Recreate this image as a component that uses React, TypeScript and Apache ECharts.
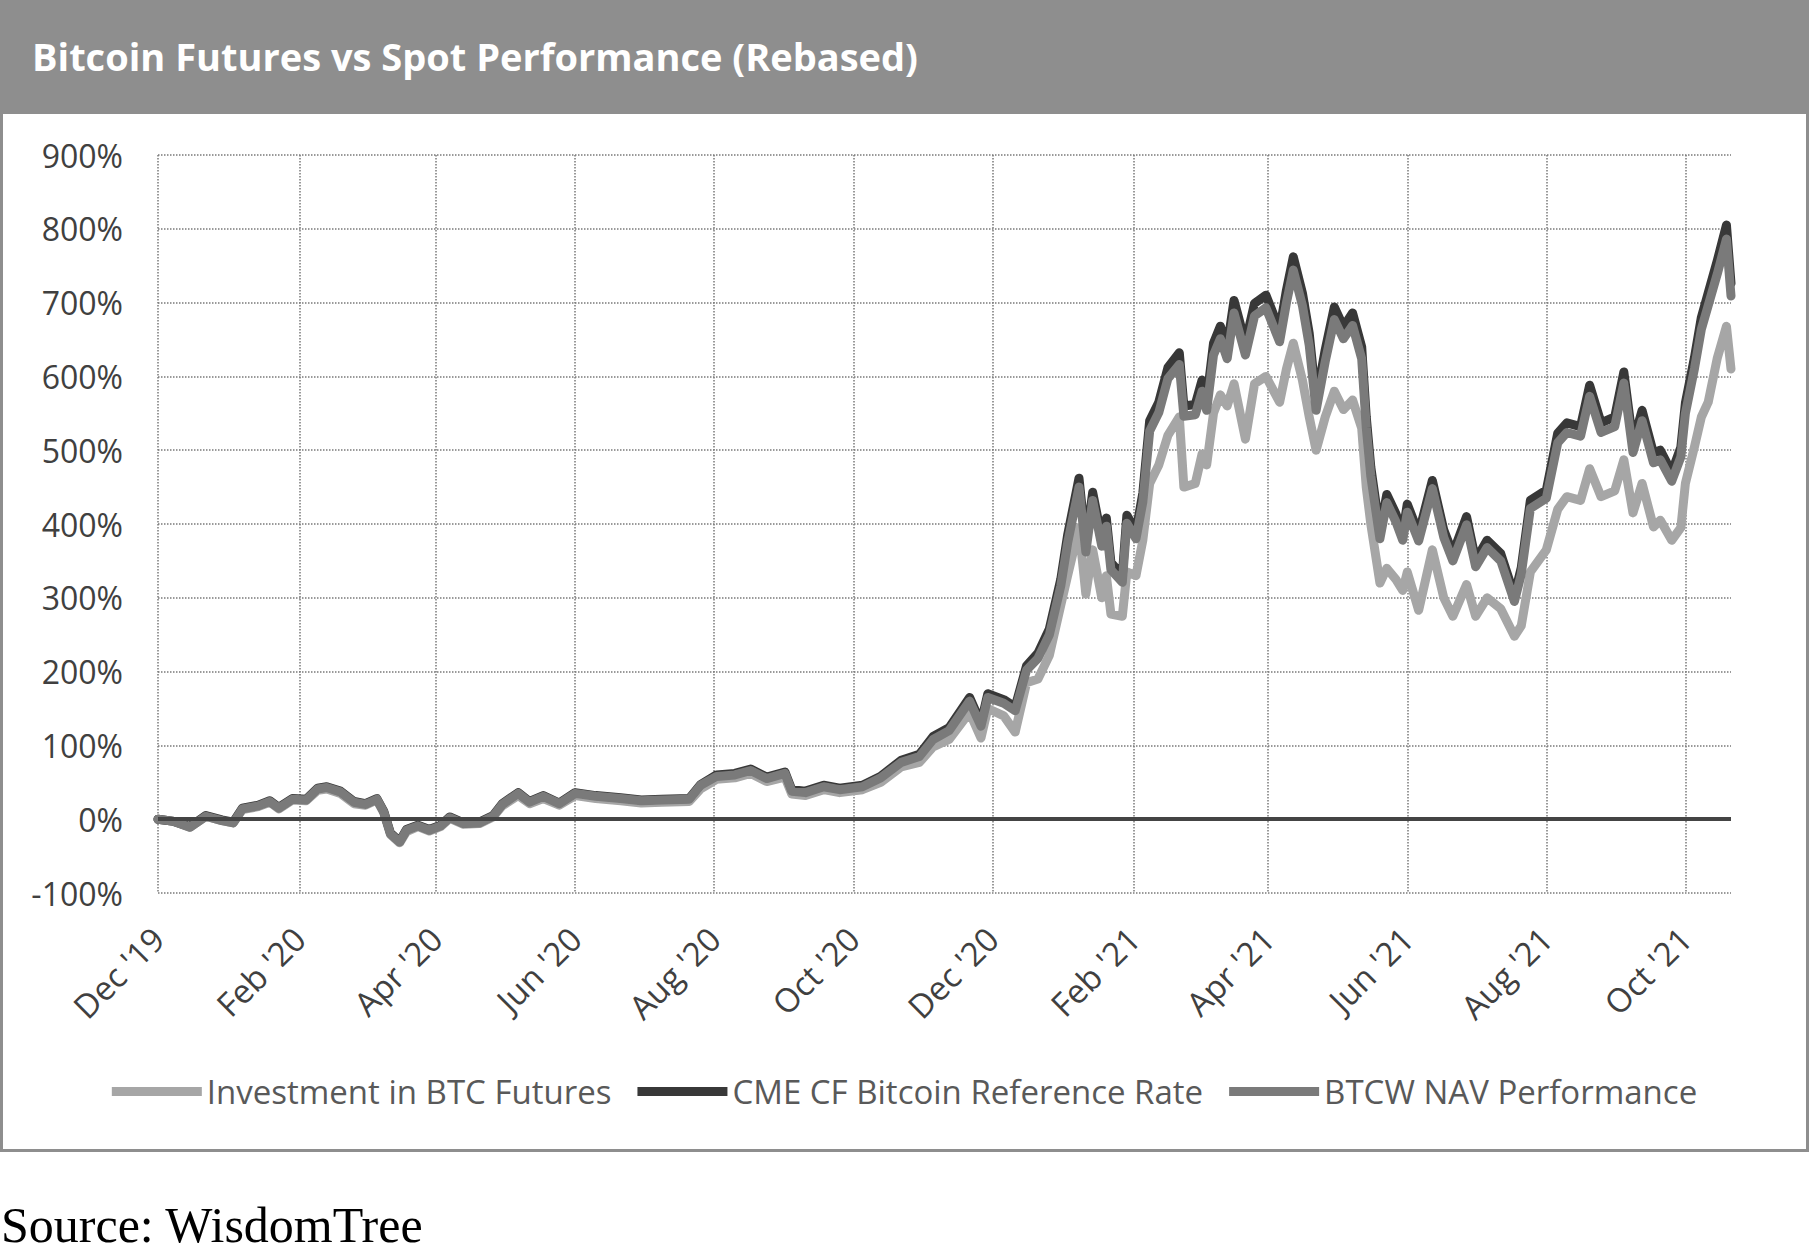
import React, { useEffect, useRef } from 'react';
import * as echarts from 'echarts';

// x-axis gridline dates and their labels
const tickDates = ['2019-12-01', '2020-02-01', '2020-04-01', '2020-06-01', '2020-08-01', '2020-10-01', '2020-12-01', '2021-02-01', '2021-04-01', '2021-06-01', '2021-08-01', '2021-10-01'];
const tickLabels = ["Dec '19", "Feb '20", "Apr '20", "Jun '20", "Aug '20", "Oct '20", "Dec '20", "Feb '21", "Apr '21", "Jun '21", "Aug '21", "Oct '21"];
const xStart = '2019-12-01';
const xEnd = '2021-10-21';

const seriesNames = ['Investment in BTC Futures', 'CME CF Bitcoin Reference Rate', 'BTCW NAV Performance'];

// sample dates
const dates = [
  '2019-12-01', '2019-12-08', '2019-12-15', '2019-12-22', '2019-12-29',
  '2020-01-03', '2020-01-07', '2020-01-14', '2020-01-19', '2020-01-23', '2020-01-29',
  '2020-02-04', '2020-02-09', '2020-02-13', '2020-02-19', '2020-02-25',
  '2020-03-01', '2020-03-06', '2020-03-09', '2020-03-12', '2020-03-16', '2020-03-19', '2020-03-24', '2020-03-29',
  '2020-04-03', '2020-04-07', '2020-04-13', '2020-04-20', '2020-04-26', '2020-04-30',
  '2020-05-07', '2020-05-12', '2020-05-18', '2020-05-25',
  '2020-06-01', '2020-06-10', '2020-06-21', '2020-06-30',
  '2020-07-09', '2020-07-21', '2020-07-26',
  '2020-08-02', '2020-08-10', '2020-08-17', '2020-08-24',
  '2020-09-01', '2020-09-04', '2020-09-10', '2020-09-18', '2020-09-25',
  '2020-10-05', '2020-10-13', '2020-10-22', '2020-10-30',
  '2020-11-05', '2020-11-12', '2020-11-21', '2020-11-26', '2020-11-29',
  '2020-12-06', '2020-12-11', '2020-12-16', '2020-12-21', '2020-12-26', '2020-12-31',
  '2021-01-03', '2021-01-08', '2021-01-11', '2021-01-14', '2021-01-18', '2021-01-20', '2021-01-22', '2021-01-27', '2021-01-29',
  '2021-02-02', '2021-02-05', '2021-02-08', '2021-02-12', '2021-02-16', '2021-02-21', '2021-02-23', '2021-02-28',
  '2021-03-03', '2021-03-05', '2021-03-08', '2021-03-11', '2021-03-14', '2021-03-17', '2021-03-22', '2021-03-26', '2021-03-31',
  '2021-04-06', '2021-04-09', '2021-04-12', '2021-04-16', '2021-04-19', '2021-04-22', '2021-04-26', '2021-04-30',
  '2021-05-04', '2021-05-08', '2021-05-12', '2021-05-14', '2021-05-16', '2021-05-20', '2021-05-23', '2021-05-27', '2021-05-30',
  '2021-06-01', '2021-06-06', '2021-06-12', '2021-06-17', '2021-06-21', '2021-06-27',
  '2021-07-01', '2021-07-06', '2021-07-12', '2021-07-18', '2021-07-21', '2021-07-25',
  '2021-08-01', '2021-08-06', '2021-08-10', '2021-08-16', '2021-08-20', '2021-08-25', '2021-08-31',
  '2021-09-04', '2021-09-08', '2021-09-12', '2021-09-17', '2021-09-20', '2021-09-25', '2021-09-29',
  '2021-10-01', '2021-10-05', '2021-10-08', '2021-10-11', '2021-10-15', '2021-10-19', '2021-10-21',
];

// rebased performance, %
const futures = [
  0, -3, -11, 4, -2,
  -5, 13, 17, 23, 14, 26,
  25, 39, 41, 35, 21,
  19, 26, 9, -21, -32, -17, -10, -16,
  -10, 1, -7, -6, 3, 18,
  32, 21, 28, 19,
  32, 28, 25, 22,
  23, 24, 41,
  54, 56, 62, 51,
  57, 34, 32, 40, 36,
  40, 50, 71, 77,
  98, 108, 145, 110, 150,
  140, 118, 185, 190, 222, 290,
  330, 395, 305, 365, 300, 330, 278, 275, 335,
  330, 378, 455, 480, 520, 545, 450, 455,
  495, 480, 550, 575, 560, 590, 515, 590, 600,
  565, 610, 645, 595, 545, 500, 545, 580,
  555, 568, 530, 450, 400, 320, 340, 325, 310,
  335, 283, 365, 300, 275, 318,
  275, 300, 285, 248, 262, 335,
  365, 420, 437, 432, 475, 437, 445,
  487, 415, 455, 396, 405, 378, 395,
  455, 505, 545, 565, 625, 668, 610,
];

const cme = [
  0, -3, -10, 5, -1,
  -4, 15, 19, 25, 16, 28,
  27, 42, 44, 38, 24,
  21, 28, 11, -19, -30, -14, -8, -14,
  -8, 3, -5, -4, 5, 21,
  36, 24, 32, 22,
  36, 32, 29, 26,
  27, 28, 47,
  60, 62, 68, 57,
  64, 40, 38, 46, 42,
  46, 58, 80, 88,
  112, 124, 165, 130, 170,
  162, 152, 208, 225, 258, 325,
  385, 462, 372, 443, 380, 408, 348, 330, 412,
  390, 442, 540, 565, 612, 632, 560, 562,
  595, 568, 645, 668, 640, 703, 645, 699, 710,
  663, 717, 762, 713, 658, 568, 636, 694,
  667, 686, 640, 545, 477, 390, 440, 414, 388,
  427, 387, 459, 392, 360, 410,
  351, 378, 360, 303, 341, 432,
  446, 523, 537, 532, 588, 537, 545,
  606, 510, 554, 496, 500, 470, 504,
  564, 626, 680, 713, 757, 805, 726,
];

const btcw = [
  0, -3, -11, 4, -2,
  -5, 14, 18, 24, 15, 27,
  26, 41, 43, 37, 23,
  20, 27, 10, -20, -31, -15, -9, -15,
  -9, 2, -6, -5, 4, 20,
  35, 23, 31, 21,
  35, 31, 28, 25,
  26, 27, 46,
  58, 60, 66, 55,
  62, 38, 36, 44, 40,
  44, 56, 77, 85,
  108, 120, 160, 126, 165,
  157, 147, 202, 218, 250, 316,
  374, 450, 362, 432, 370, 397, 338, 321, 401,
  380, 430, 526, 551, 597, 616, 546, 548,
  580, 554, 629, 651, 624, 686, 629, 682, 693,
  647, 700, 744, 696, 642, 554, 620, 677,
  651, 669, 624, 531, 465, 380, 429, 403, 378,
  416, 377, 448, 382, 350, 399,
  342, 368, 350, 295, 332, 421,
  435, 510, 524, 519, 573, 524, 532,
  591, 497, 540, 483, 487, 458, 491,
  550, 611, 664, 696, 739, 786, 709,
];

const FONT = '"Open Sans", "Noto Sans", sans-serif';

// 'YYYY-MM-DD' -> UTC timestamp
const ts = (s: string) => {
  const [y, m, d] = s.split('-').map(Number);
  return Date.UTC(y, m - 1, d);
};

const App: React.FC = () => {
  const chartRef = useRef<HTMLDivElement>(null);

  useEffect(() => {
    if (!chartRef.current) return;
    const chart = echarts.init(chartRef.current, undefined, { renderer: 'svg' });

    const tickValues = tickDates.map(ts);
    const labelFor = (v: number) => {
      const i = tickValues.findIndex((t) => Math.abs(t - v) < 43200000);
      return i >= 0 ? tickLabels[i] : '';
    };

    const colors = ['#a6a6a6', '#383838', '#7a7a7a'];
    const values = [futures, cme, btcw];
    const gridLine = { show: true, lineStyle: { type: 'dotted', color: '#7a7a7a', width: 1.5 } };

    const option = {
      animation: false,
      backgroundColor: '#ffffff',
      title: {
        text: 'Bitcoin Futures vs Spot Performance (Rebased)',
        left: 32,
        top: 37,
        padding: 0,
        textStyle: { color: '#ffffff', fontSize: 38, fontWeight: 'bold', fontFamily: FONT },
      },
      graphic: [
        { type: 'rect', z: -10, shape: { x: 0, y: 0, width: 1809, height: 111 }, style: { fill: '#8e8e8e' } },
        { type: 'rect', z: -10, shape: { x: 1.5, y: 112.5, width: 1806, height: 1038 }, style: { fill: 'none', stroke: '#8e8e8e', lineWidth: 3 } },
        {
          type: 'text',
          left: 1,
          top: 1200,
          style: { text: 'Source: WisdomTree', fill: '#000000', font: '50px "Liberation Serif", "DejaVu Serif", serif', lineHeight: 50 },
        },
      ],
      legend: {
        data: seriesNames,
        left: 'center',
        top: 1070,
        icon: 'rect',
        itemWidth: 90,
        itemHeight: 9,
        itemGap: 26,
        textStyle: { fontSize: 33, color: '#595959', fontFamily: FONT },
      },
      grid: { left: 158, top: 155, width: 1573, height: 738, containLabel: false },
      xAxis: {
        type: 'value',
        min: ts(xStart),
        max: ts(xEnd),
        axisLine: { show: false },
        axisTick: { show: false, customValues: tickValues },
        axisLabel: {
          customValues: tickValues,
          rotate: 45,
          margin: 40,
          fontSize: 33,
          color: '#404040',
          fontFamily: FONT,
          formatter: (v: number) => labelFor(v),
        },
        splitLine: gridLine,
      },
      yAxis: {
        type: 'value',
        min: -100,
        max: 900,
        interval: 100,
        axisLine: { show: false },
        axisTick: { show: false },
        axisLabel: { formatter: '{value}%', fontSize: 32, color: '#404040', fontFamily: FONT, margin: 35 },
        splitLine: gridLine,
      },
      series: seriesNames.map((name, i) => ({
        name,
        type: 'line',
        data: dates.map((d, j) => [ts(d), values[i][j]]),
        symbol: 'none',
        showSymbol: false,
        color: colors[i],
        lineStyle: { width: 9, color: colors[i], join: 'round', cap: 'round' },
        emphasis: { disabled: true },
        markLine: i === 2
          ? {
              silent: true,
              symbol: ['none', 'none'],
              label: { show: false },
              lineStyle: { color: '#444444', width: 4, type: 'solid' },
              data: [{ yAxis: 0 }],
            }
          : undefined,
      })),
    };

    chart.setOption(option as any);
    return () => chart.dispose();
  }, []);

  return (
    <div style={{ position: 'absolute', left: 0, top: 0, width: 1809, height: 1256, background: '#fff' }}>
      <div ref={chartRef} style={{ width: 1809, height: 1256 }} />
    </div>
  );
};

export default App;
